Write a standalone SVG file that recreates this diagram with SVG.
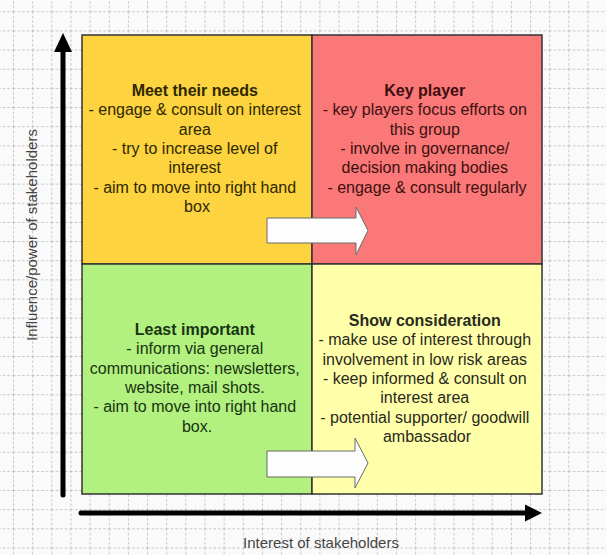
<svg xmlns="http://www.w3.org/2000/svg" width="606" height="555" viewBox="0 0 606 555">
  <defs>
    <pattern id="grid" x="13" y="11.3" width="19.15" height="19.15" patternUnits="userSpaceOnUse">
      <path d="M0,0.5 H19.15 M0.5,0 V19.15" fill="none" stroke="#c4c4c4" stroke-width="1" stroke-dasharray="2.5,2"/>
    </pattern>
    <style>
      .quad { stroke: #333; stroke-width: 1.5; }
      .t { font-family: "Liberation Sans", Arial, sans-serif; font-size: 16px; text-anchor: middle; }
      .b { font-weight: bold; }
      .ax { font-family: "Liberation Sans", Arial, sans-serif; font-size: 15px; fill: #444; text-anchor: middle; }
      .axis { stroke: #000; stroke-width: 5; stroke-linecap: round; fill: none; }
      .blk { fill: #fdfdfd; stroke: #6a6a6a; stroke-width: 1; stroke-linejoin: miter; }
    </style>
  </defs>
  <rect width="606" height="555" fill="#fafafa"/>
  <rect width="606" height="555" fill="url(#grid)"/>

  <g id="meet-their-needs">
    <rect class="quad" x="82" y="35" width="230" height="229" fill="#fdd33f"/>
    <text class="t" fill="#2e2800">
      <tspan class="b" x="197" y="96">Meet their needs</tspan>
      <tspan x="197" y="115.3">- engage &amp; consult on interest</tspan>
      <tspan x="197" y="134.6">area</tspan>
      <tspan x="197" y="153.9">- try to increase level of</tspan>
      <tspan x="197" y="173.2">interest</tspan>
      <tspan x="197" y="192.5">- aim to move into right hand</tspan>
      <tspan x="197" y="211.8">box</tspan>
    </text>
  </g>

  <g id="key-player">
    <rect class="quad" x="312" y="35" width="230" height="229" fill="#fa7878"/>
    <text class="t" fill="#3d1010">
      <tspan class="b" x="427" y="96">Key player</tspan>
      <tspan x="427" y="115.3">- key players focus efforts on</tspan>
      <tspan x="427" y="134.6">this group</tspan>
      <tspan x="427" y="153.9">- involve in governance/</tspan>
      <tspan x="427" y="173.2">decision making bodies</tspan>
      <tspan x="427" y="192.5">- engage &amp; consult regularly</tspan>
    </text>
  </g>

  <g id="least-important">
    <rect class="quad" x="82" y="264" width="230" height="230" fill="#b2f080"/>
    <text class="t" fill="#183410">
      <tspan class="b" x="197" y="335">Least important</tspan>
      <tspan x="197" y="354.3">- inform via general</tspan>
      <tspan x="197" y="373.6">communications: newsletters,</tspan>
      <tspan x="197" y="392.9">website, mail shots.</tspan>
      <tspan x="197" y="412.2">- aim to move into right hand</tspan>
      <tspan x="197" y="431.5">box.</tspan>
    </text>
  </g>

  <g id="show-consideration">
    <rect class="quad" x="312" y="264" width="230" height="230" fill="#ffffaa"/>
    <text class="t" fill="#2a2a1c">
      <tspan class="b" x="427" y="326">Show consideration</tspan>
      <tspan x="427" y="345.3">- make use of interest through</tspan>
      <tspan x="427" y="364.6">involvement in low risk areas</tspan>
      <tspan x="427" y="383.9">- keep informed &amp; consult on</tspan>
      <tspan x="427" y="403.2">interest area</tspan>
      <tspan x="427" y="422.5">- potential supporter/ goodwill</tspan>
      <tspan x="427" y="441.8">ambassador</tspan>
    </text>
  </g>

  <g id="connectors">
    <path class="blk" d="M267,218 H356 V207 L368,230.5 L356,255 V243 H267 Z"/>
    <path class="blk" d="M267,451 H355 V438 L368,463 L355,488 V477 H267 Z"/>
    <line class="axis" x1="63" y1="495" x2="63" y2="50"/>
    <polygon points="54,52 63,33 72,52" fill="#000"/>
    <line class="axis" x1="81" y1="513" x2="527" y2="513"/>
    <polygon points="525,504.5 542,513 525,521.5" fill="#000"/>
  </g>

  <g id="axis-labels">
    <text class="ax" x="321" y="548">Interest of stakeholders</text>
    <text class="ax" transform="translate(37,235) rotate(-90)">Influence/power of stakeholders</text>
  </g>
</svg>
